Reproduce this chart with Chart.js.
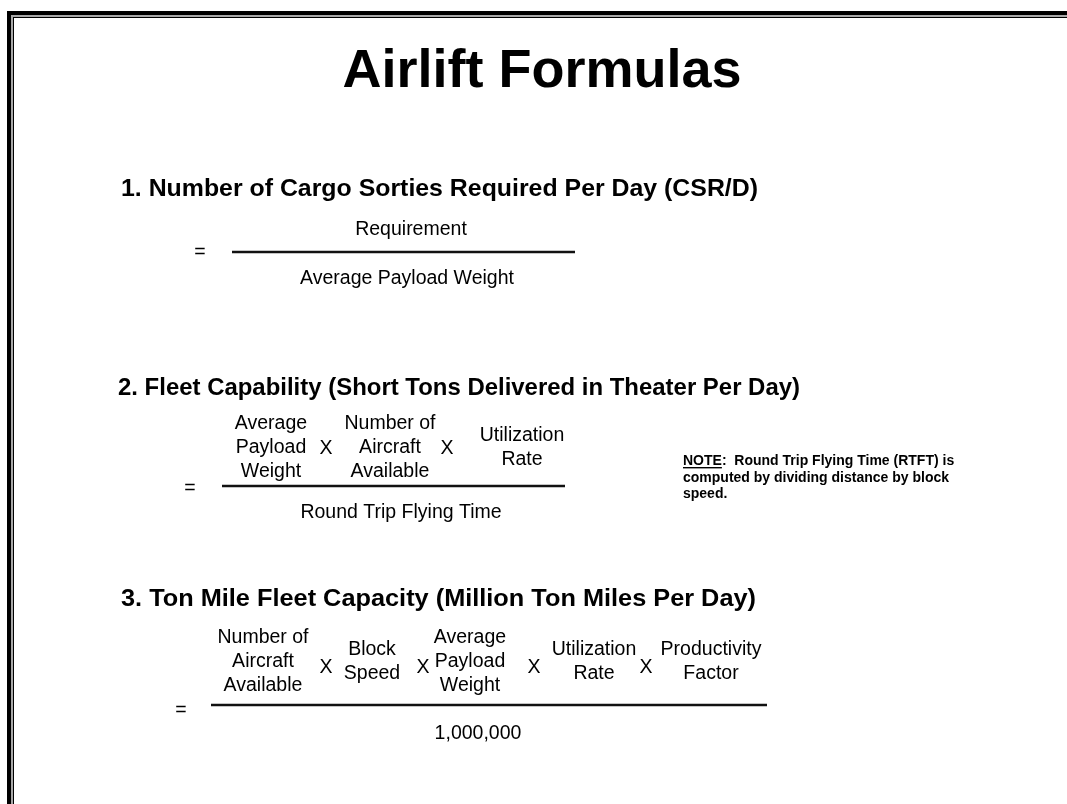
<!DOCTYPE html>
<html>
<head>
<meta charset="utf-8">
<script src="https://cdn.jsdelivr.net/npm/chart.js@4.4.1/dist/chart.umd.min.js"></script>
<style>
  html, body { margin: 0; padding: 0; background: #fff; }
  #canvas { display: block; }
</style>
</head>
<body>
<canvas id="canvas" width="1067" height="804"></canvas>
<script>
// slide text
var title = 'Airlift Formulas';
var headings = [
  '1. Number of Cargo Sorties Required Per Day (CSR/D)',
  '2. Fleet Capability (Short Tons Delivered in Theater Per Day)',
  '3. Ton Mile Fleet Capacity (Million Ton Miles Per Day)'
];
var f1Num = ['Requirement'];
var f1Den = 'Average Payload Weight';
var f2Terms = [
  ['Average', 'Payload', 'Weight'],
  ['Number of', 'Aircraft', 'Available'],
  ['Utilization', 'Rate']
];
var f2Den = 'Round Trip Flying Time';
var f3Terms = [
  ['Number of', 'Aircraft', 'Available'],
  ['Block', 'Speed'],
  ['Average', 'Payload', 'Weight'],
  ['Utilization', 'Rate'],
  ['Productivity', 'Factor']
];
var f3Den = '1,000,000';
var noteLines = [
  ['NOTE', ':  Round Trip Flying Time (RTFT) is'],
  ['', 'computed by dividing distance by block'],
  ['', 'speed.']
];

var FONT = '"Liberation Sans", Arial, Helvetica, sans-serif';

// layout of the slide (canvas units)
var headingPos = [
  { l: 121, r: 758, y: 187 },
  { l: 118, r: 800, y: 386 },
  { l: 121, r: 756, y: 597 }
];
var f2Layout = { eq: [190, 487], bar: [222, 565, 486], cols: [271, 390, 522], x: [326, 447], xy: 447, top: 422, den: [401, 511] };
var f3Layout = { eq: [181, 709], bar: [211, 767, 705], cols: [263, 372, 470, 594, 711], x: [326, 423, 534, 646], xy: 666, top: 636, den: [478, 732] };

var slide = {
  id: 'slide',
  beforeDraw: function (chart) {
    var ctx = chart.ctx;
    ctx.save();
    ctx.fillStyle = '#fff';
    ctx.fillRect(0, 0, chart.width, chart.height);
    ctx.restore();
  },
  afterDraw: function (chart) {
    var ctx = chart.ctx;
    var sx = chart.scales.x, sy = chart.scales.y;
    var X = function (v) { return sx.getPixelForValue(v); };
    var Y = function (v) { return sy.getPixelForValue(v); };

    ctx.save();
    ctx.fillStyle = '#000';
    ctx.strokeStyle = '#000';

    // frame (top and left edges show, rest runs off the slide)
    ctx.fillStyle = '#000';
    ctx.fillRect(X(7), Y(11), X(1067) - X(7), 4);
    ctx.fillRect(X(7), Y(11), 4, Y(804) - Y(11));
    ctx.fillStyle = '#a8a8a8';
    ctx.fillRect(X(11), Y(15), X(1067) - X(11), 2);
    ctx.fillRect(X(11), Y(15), 2, Y(804) - Y(15));
    ctx.fillStyle = '#000';
    ctx.fillRect(X(13), Y(17), X(1067) - X(13), 1);
    ctx.fillRect(X(13), Y(17), 1, Y(804) - Y(17));

    function text(str, cx, cy, size, bold, align) {
      ctx.font = (bold ? 'bold ' : '') + size + 'px ' + FONT;
      ctx.textAlign = align || 'center';
      ctx.textBaseline = 'alphabetic';
      ctx.fillText(str, X(cx), Y(cy) + size * 0.36);
    }
    function fitText(str, l, r, cy, size) {
      ctx.font = 'bold ' + size + 'px ' + FONT;
      ctx.textAlign = 'left';
      ctx.textBaseline = 'alphabetic';
      var w = ctx.measureText(str).width;
      var k = (X(r) - X(l)) / w;
      ctx.save();
      ctx.translate(X(l), Y(cy) + size * 0.36);
      ctx.scale(k, 1);
      ctx.fillText(str, 0, 0);
      ctx.restore();
    }
    function bar(x1, x2, yy) {
      ctx.beginPath();
      ctx.lineWidth = 2.5;
      ctx.strokeStyle = '#111';
      ctx.moveTo(X(x1), Y(yy));
      ctx.lineTo(X(x2), Y(yy));
      ctx.stroke();
    }

    // title
    text(title, 542, 68, 54, true);

    // headings
    headings.forEach(function (h, i) {
      var p = headingPos[i];
      fitText(h, p.l, p.r, p.y, 24);
    });

    var fs = 19.5, lh = 24;

    // formula 1
    text('=', 200, 251, fs);
    bar(232, 575, 252);
    text(f1Num[0], 411, 228, fs);
    text(f1Den, 407, 277, fs);

    // formula 2 & 3 share the same stacked-term layout
    function stacked(terms, L) {
      text('=', L.eq[0], L.eq[1], fs);
      bar(L.bar[0], L.bar[1], L.bar[2]);
      var mid = L.top + lh;
      terms.forEach(function (t, i) {
        var y0 = mid - (t.length - 1) * lh / 2;
        t.forEach(function (s, j) {
          text(s, L.cols[i], y0 + j * lh, fs);
        });
      });
      L.x.forEach(function (xx) { text('X', xx, L.xy, fs); });
    }
    stacked(f2Terms, f2Layout);
    text(f2Den, f2Layout.den[0], f2Layout.den[1], fs);
    stacked(f3Terms, f3Layout);
    text(f3Den, f3Layout.den[0], f3Layout.den[1], fs);

    // note
    ctx.font = 'bold 14px ' + FONT;
    ctx.textAlign = 'left';
    ctx.textBaseline = 'alphabetic';
    noteLines.forEach(function (ln, i) {
      var bx = X(683), by = Y(460 + i * 16.5) + 5;
      var uw = 0;
      if (ln[0]) {
        ctx.fillText(ln[0], bx, by);
        uw = ctx.measureText(ln[0]).width;
        ctx.fillRect(bx, by + 2, uw, 1.4);
      }
      ctx.fillText(ln[1], bx + uw, by);
    });

    ctx.restore();
  }
};

new Chart('canvas', {
  type: 'scatter',
  data: { datasets: [{ data: [] }] },
  options: {
    responsive: false,
    animation: false,
    events: [],
    layout: { padding: 0 },
    plugins: { legend: { display: false }, tooltip: { enabled: false } },
    scales: {
      x: { type: 'linear', min: 0, max: 1067, display: false },
      y: { type: 'linear', min: 0, max: 804, reverse: true, display: false }
    }
  },
  plugins: [slide]
});
</script>
</body>
</html>
